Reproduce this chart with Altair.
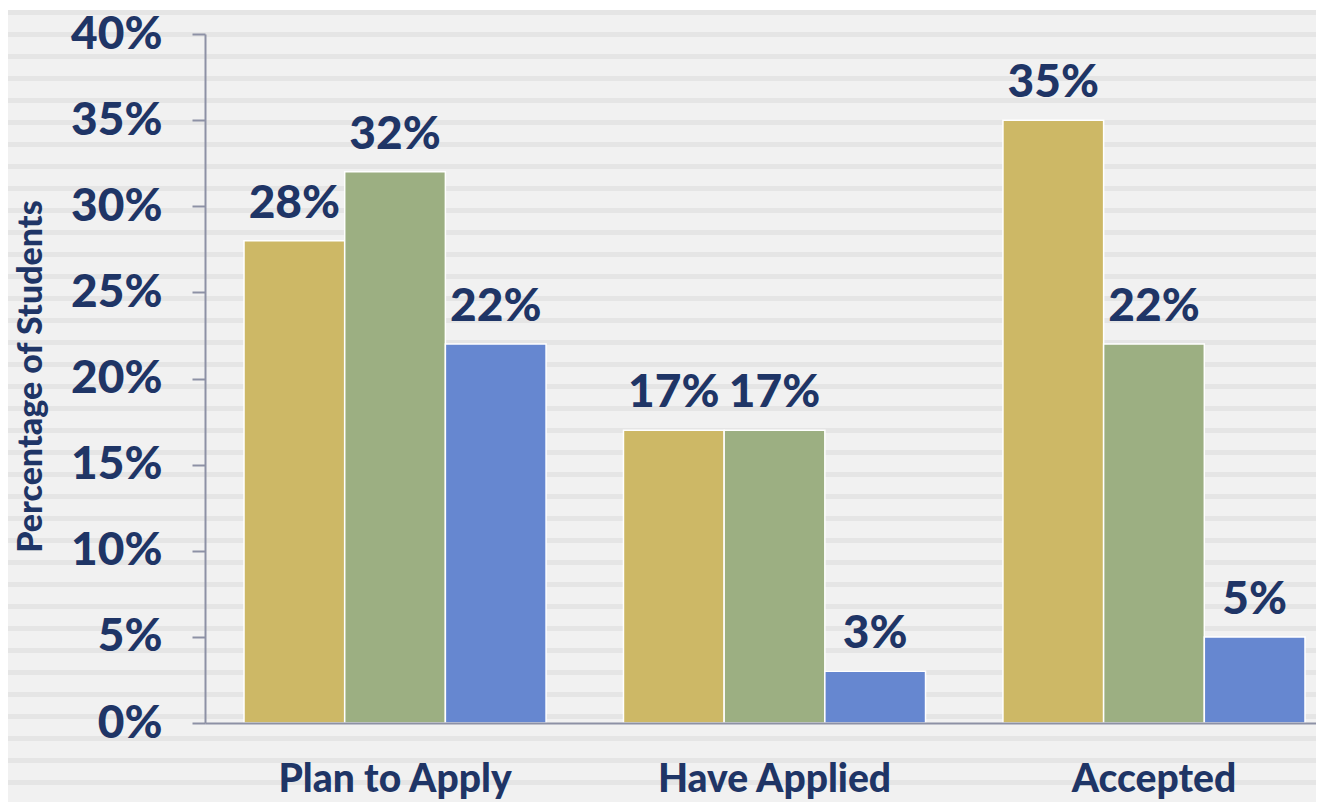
import altair as alt
import pandas as pd

categories = ["Plan to Apply", "Have Applied", "Accepted"]
series = ["Series 1", "Series 2", "Series 3"]
values_s1 = [0.28, 0.17, 0.35]
values_s2 = [0.32, 0.17, 0.22]
values_s3 = [0.22, 0.03, 0.05]
colors = ["#cdb866", "#9caf82", "#6687d0"]
y_ticks = [0, 0.05, 0.10, 0.15, 0.20, 0.25, 0.30, 0.35, 0.40]

rows = []
for s, vals in zip(series, [values_s1, values_s2, values_s3]):
    for c, v in zip(categories, vals):
        rows.append({"category": c, "series": s, "value": v})
df = pd.DataFrame(rows)

NAVY = "#1f3566"
AXIS = "#8d91a5"
FONT = "Lato"

W, H = 1111, 689
PAD = {"left": 197, "top": 26, "right": 0, "bottom": 79}

# striped background (decoration): dark stripe 4.7px every 22px
period, dark = 22.0, 4.7
bg_top, bg_bottom = -24, 768
total = bg_bottom - bg_top
stops = []
k = 0
while k * period < total:
    a = k * period / total
    b = min((k * period + dark) / total, 1)
    c = min(((k + 1) * period) / total, 1)
    stops += [
        alt.GradientStop(offset=a, color="#e5e5e5"),
        alt.GradientStop(offset=b, color="#e5e5e5"),
        alt.GradientStop(offset=b, color="#f1f1f1"),
        alt.GradientStop(offset=c, color="#f1f1f1"),
    ]
    k += 1

bg = alt.Chart(alt.InlineData(values=[{"a": 1}])).mark_rect(
    fill=alt.LinearGradient(gradient="linear", stops=stops, x1=0, x2=0, y1=0, y2=1)
).encode(
    x=alt.value(-PAD["left"]), x2=alt.value(W + 10),
    y=alt.value(bg_top), y2=alt.value(bg_bottom),
)

xscale = alt.Scale(domain=categories, paddingInner=0.204, paddingOuter=0.0659, align=0.78)
x_enc = alt.X(
    "category:N", scale=xscale, sort=categories, title=None,
    axis=alt.Axis(
        ticks=False, tickSize=0, labelAngle=0, labelFont=FONT, labelFontSize=39,
        labelFontWeight=900, labelColor=NAVY, labelBaseline="alphabetic",
        labelPadding=68, labelLimit=0, domainColor=AXIS, domainWidth=2, zindex=1,
        grid=False,
    ),
)
y_enc = alt.Y(
    "value:Q", scale=alt.Scale(domain=[0, 0.4], nice=False),
    title="Percentage of Students",
    axis=alt.Axis(
        values=y_ticks, format=".0%", labelFont=FONT, labelFontSize=46,
        labelFontWeight=900, labelColor=NAVY, labelPadding=30, tickSize=13,
        tickColor=AXIS, tickWidth=2, domainColor=AXIS, domainWidth=2, grid=False,
        zindex=1, titleFont=FONT, titleFontSize=34, titleFontWeight=900,
        titleColor=NAVY, titleAngle=270, titleX=-164, titleY=342,
        titleBaseline="alphabetic", titleAlign="center",
    ),
)
xoff = alt.XOffset("series:N", sort=series, scale=alt.Scale(paddingInner=0, paddingOuter=0))
color = alt.Color("series:N", sort=series, scale=alt.Scale(domain=series, range=colors), legend=None)

bars = alt.Chart(df).mark_bar(stroke="white", strokeWidth=1.5).encode(
    x=x_enc, xOffset=xoff, y=y_enc, color=color
)
labels = alt.Chart(df).mark_text(
    font=FONT, fontSize=46, fontWeight=900, color=NAVY,
    baseline="alphabetic", align="center", dy=-23,
).encode(
    x=alt.X("category:N", sort=categories), xOffset=alt.XOffset("series:N", sort=series),
    y="value:Q", text=alt.Text("value:Q", format=".0%"),
)

chart = alt.layer(bg, bars, labels).properties(
    width=W, height=H,
    autosize=alt.AutoSizeParams(type="none"),
    padding=PAD,
    background="white",
).configure_view(strokeWidth=0)

chart.save("out.html", embed_options={"renderer": "svg", "actions": False})
